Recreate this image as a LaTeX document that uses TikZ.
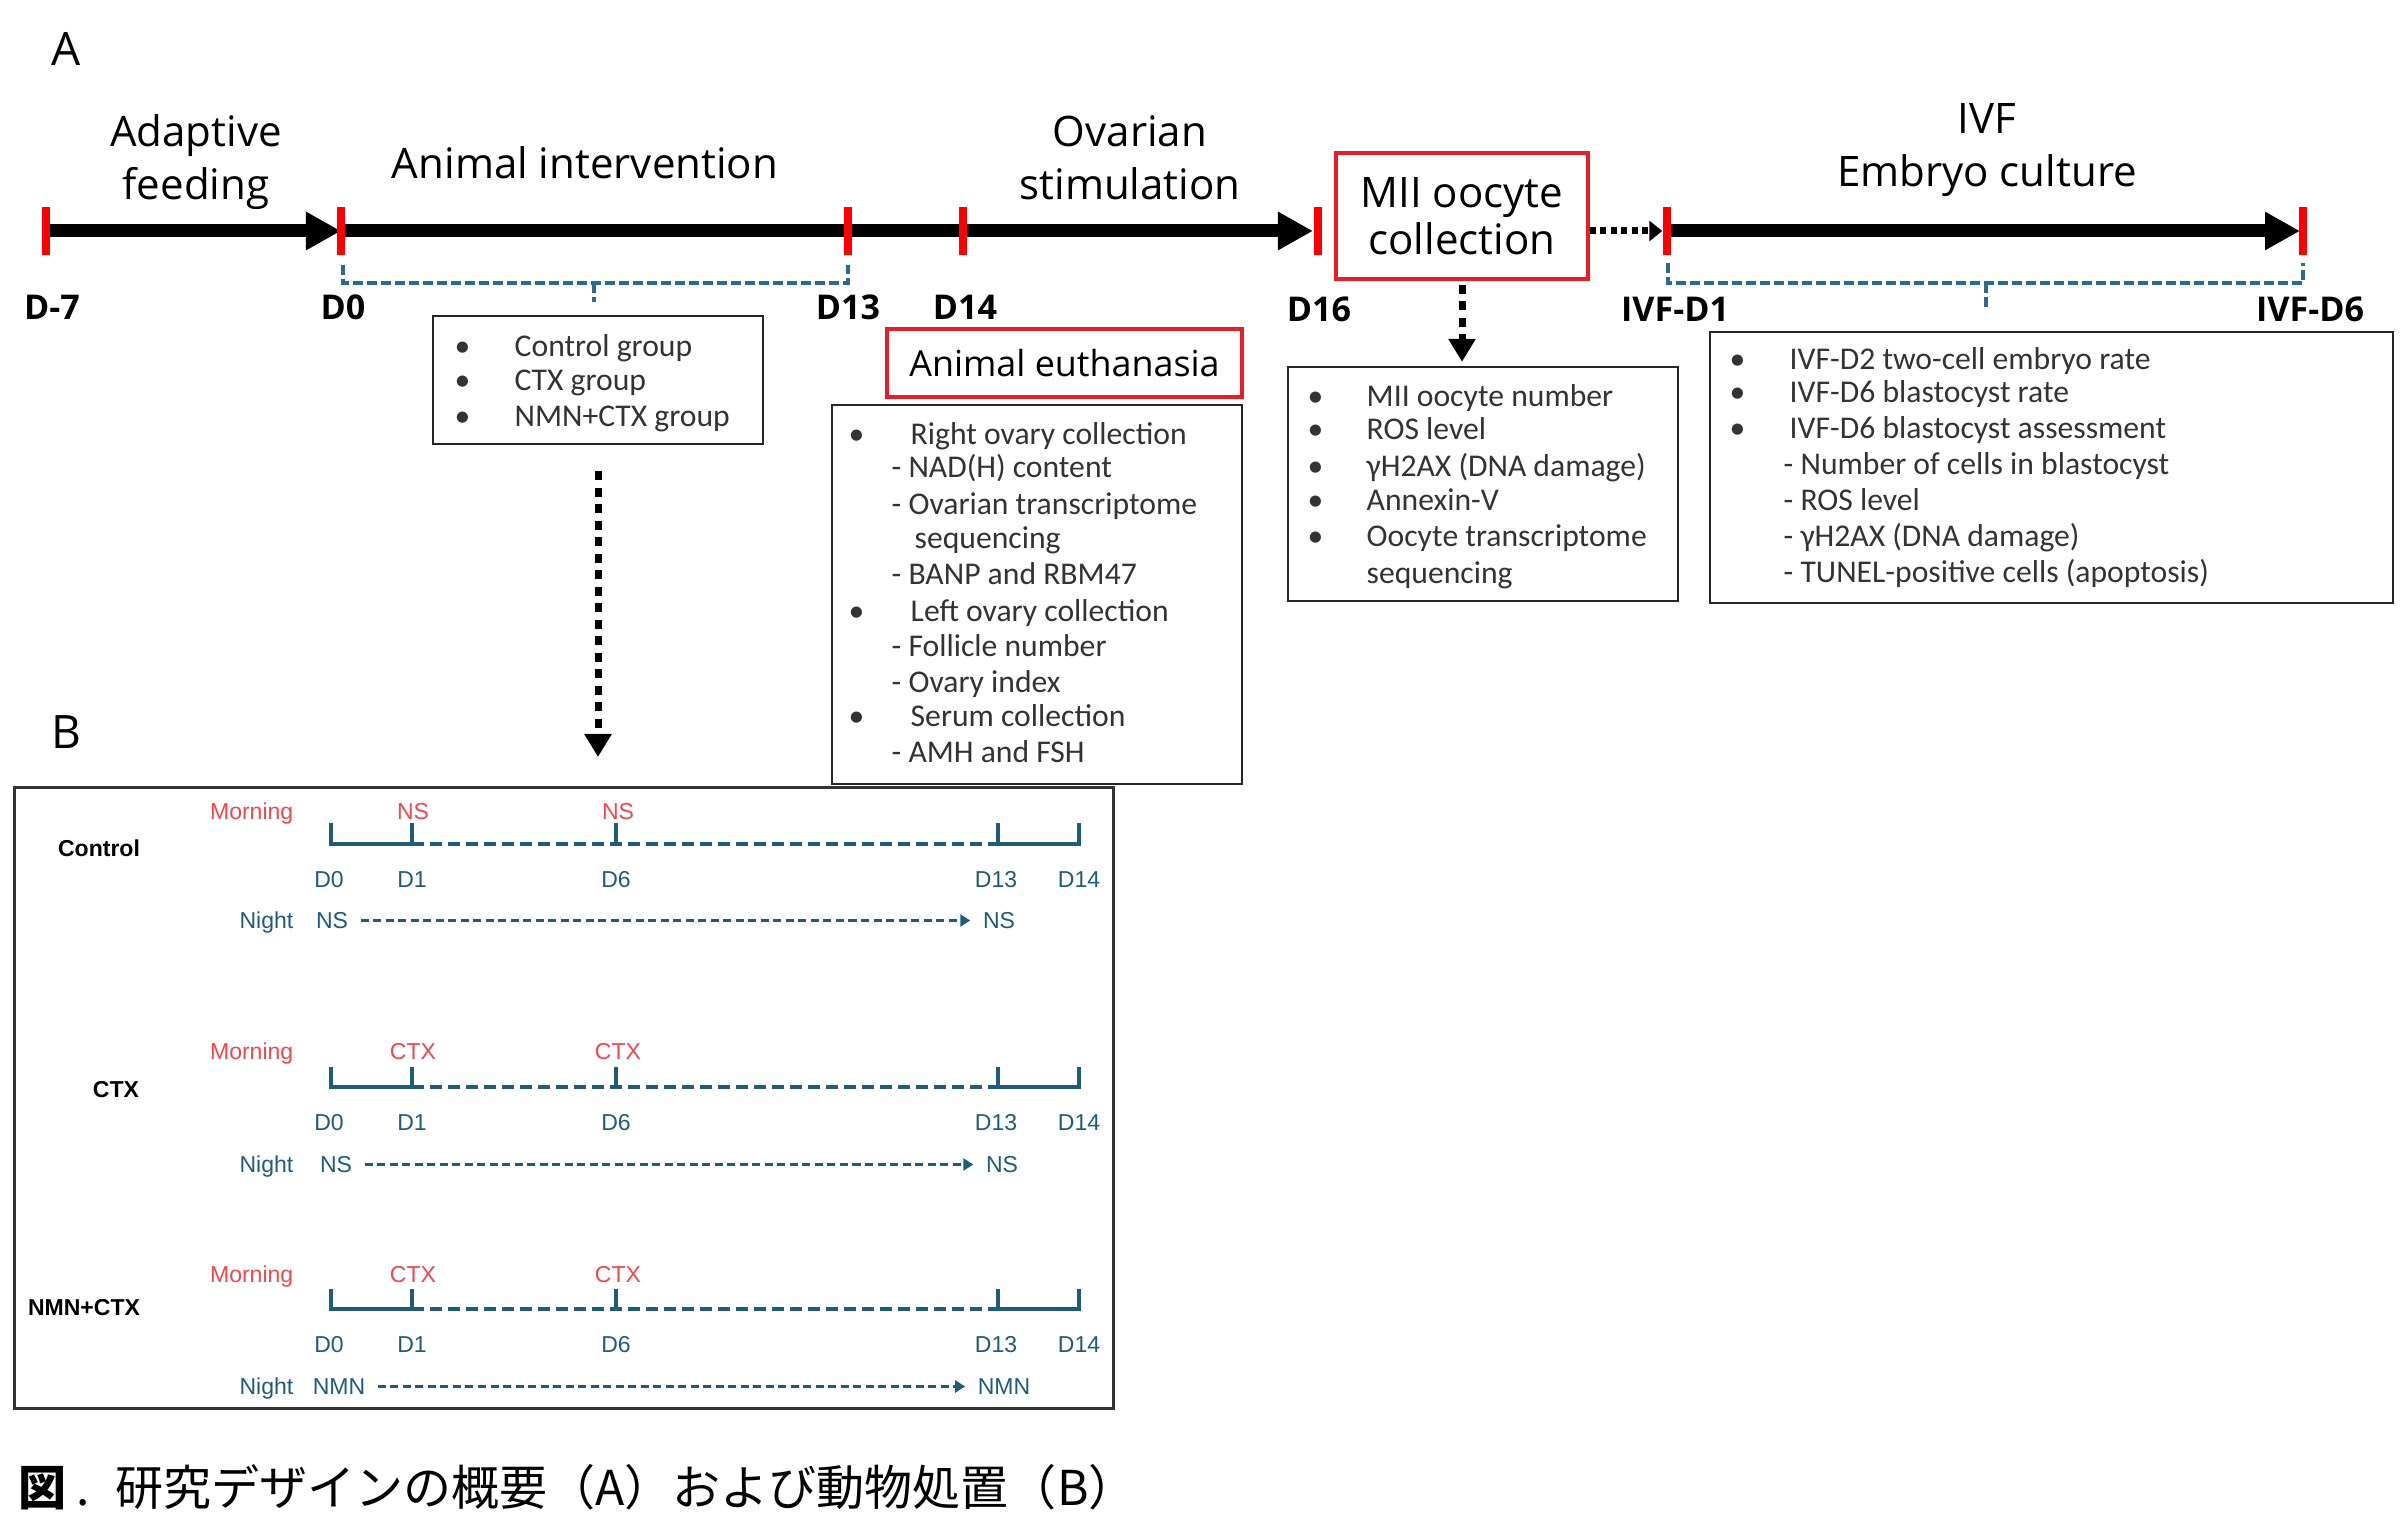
\documentclass[tikz,border=0pt]{standalone}
\usepackage{fontspec}
\setmainfont{Open Sans}
\newfontfamily\listfont{Carlito}
\newfontfamily\arialfont{Liberation Sans}
\newfontfamily\cjkfont{Noto Sans CJK JP}
\usetikzlibrary{arrows.meta}
\definecolor{tickred}{RGB}{255,0,0}
\definecolor{boxred}{RGB}{235,28,36}
\definecolor{bracecol}{RGB}{43,106,143}
\definecolor{bteal}{RGB}{31,92,122}
\definecolor{mred}{RGB}{240,72,78}
\tikzstyle{panel}=[font=\fontsize{13.1}{15}\selectfont]
\tikzstyle{head}=[align=center,font=\fontsize{11.95}{15}\selectfont]
\tikzstyle{day}=[font=\bfseries\fontsize{9.7}{12}\selectfont,anchor=mid]
\tikzstyle{redtick}=[fill=tickred,inner sep=0,minimum width=0.08cm,minimum height=0.48cm]
\tikzstyle{bigarrow}=[line width=0.13cm,-{Triangle[length=0.35cm,width=0.36cm]}]
\tikzstyle{dotarrow}=[line width=0.07cm,dash pattern=on 0.06cm off 0.045cm,-{Triangle[length=0.13cm,width=0.2cm]}]
\tikzstyle{vdotarrow}=[line width=0.07cm,dash pattern=on 0.09cm off 0.075cm,-{Triangle[length=0.23cm,width=0.26cm]}]
\tikzstyle{brace}=[draw=bracecol,line width=0.035cm,dash pattern=on 0.1cm off 0.04cm]
\tikzstyle{rbox}=[draw=boxred,line width=0.035cm]
\tikzstyle{lbox}=[draw=black!85,line width=0.022cm]
\tikzstyle{lst}=[font=\listfont\fontsize{9}{11}\selectfont,anchor=mid west,inner sep=0,text=black!80]
\tikzstyle{btxt}=[font=\arialfont\fontsize{6.55}{8}\selectfont,text=bteal,inner sep=0.04cm,anchor=mid]
\tikzstyle{bred}=[btxt,text=mred]
\tikzstyle{bside}=[btxt,anchor=mid east]
\tikzstyle{bmorn}=[bside,text=mred]
\tikzstyle{bgrp}=[font=\arialfont\bfseries\fontsize{6.55}{8}\selectfont,anchor=mid]
\tikzstyle{bline}=[draw=bteal,line width=0.048cm]
\tikzstyle{bdash}=[bline,dash pattern=on 0.12cm off 0.06cm]
\tikzstyle{nightarrow}=[draw=bteal,line width=0.035cm,dash pattern=on 0.08cm off 0.045cm,-{Triangle[length=0.1cm,width=0.12cm]},shorten <=0.08cm,shorten >=0.08cm]

\begin{document}
\begin{tikzpicture}[x=0.01cm,y=-0.01cm]
\useasboundingbox (0,0) rectangle (2400,1534);
\fill[white] (0,0) rectangle (2400,1534);

% A: time line
\node[panel] (labA) at (66,49) {A};
\coordinate (pm7) at (46,231); \coordinate (p0) at (341,231); \coordinate (p13) at (848,231); \coordinate (p14) at (963,231);
\coordinate (p16) at (1318,231); \coordinate (pi1) at (1667,231); \coordinate (pi6) at (2303,231);
\draw[bigarrow] (pm7) -- (p0);
\draw[bigarrow,shorten >=0.05cm] (p0) -- (p16);
\draw[bigarrow,shorten >=0.03cm] (pi1) -- (pi6);
\node[redtick] (tm7) at (pm7) {}; \node[redtick] (t0) at (p0) {}; \node[redtick] (t13) at (p13) {}; \node[redtick] (t14) at (p14) {};
\node[redtick] (t16) at (p16) {}; \node[redtick] (ti1) at (pi1) {}; \node[redtick] (ti6) at (pi6) {};

\node[head] (hadapt) at (196,162) {Adaptive\\feeding};
\node[head] (hinter) at (585,163) {Animal intervention};
\node[head] (hovar) at (1130,158) {Ovarian\\stimulation};
\node[head] (hivf) at (1987,150) {IVF\\Embryo culture};
\node[rbox,head,font=\fontsize{11.95}{13.4}\selectfont,minimum width=2.52cm,minimum height=1.26cm] (mii) at (1462,216) {MII oocyte\\collection};
\draw[dotarrow] (mii.east |- ti1) -- (ti1.west);

\node[day] (dm7) at (52,310) {D-7};
\node[day] (d0) at (343,310) {D0};
\node[day] (d13) at (848,310) {D13};
\node[day] (d14) at (965,310) {D14};
\node[day] (d16) at (1319,312) {D16};
\node[day] (di1) at (1675,312) {IVF-D1};
\node[day] (di6) at (2310,312) {IVF-D6};

\draw[brace] (343,265) -- (343,283) -- (848,283) -- (848,265); \draw[brace] (594,283) -- (594,302);
\draw[brace] (1668,263) -- (1668,283) -- (2303,283) -- (2303,263); \draw[brace] (1986,283) -- (1986,307);

% groups
\node[lbox,minimum width=3.3cm,minimum height=1.28cm] (grp) at (598,380) {};
\node[lst] (gb1) at (454,347) {•}; \node[lst] (g1) at (514,347) {Control group};
\node[lst] (gb2) at (454,381) {•}; \node[lst] (g2) at (514,381) {CTX group};
\node[lst] (gb3) at (454,417) {•}; \node[lst] (g3) at (514,417) {NMN+CTX group};
\coordinate (arrB) at (600,757);
\draw[vdotarrow,shorten <=0.26cm] (grp.south) -- (grp.south |- arrB);

% euthanasia
\node[rbox,font=\fontsize{10.2}{12}\selectfont,minimum width=3.55cm,minimum height=0.68cm] (euth) at (1064.5,363) {Animal euthanasia};
\node[lbox,minimum width=4.1cm,minimum height=3.79cm] (elist) at (1037,594.5) {};
\node[lst] (eb1) at (848,435) {•}; \node[lst] (e1) at (910,435) {Right ovary collection};
\node[lst] (e2) at (891,468) {-~NAD(H) content};
\node[lst] (e3) at (891,505) {-~Ovarian transcriptome};
\node[lst] (e4) at (914,539) {sequencing};
\node[lst] (e5) at (891,575) {-~BANP and RBM47};
\node[lst] (eb6) at (848,612) {•}; \node[lst] (e6) at (910,612) {Left ovary collection};
\node[lst] (e7) at (891,647) {-~Follicle number};
\node[lst] (e8) at (891,683) {-~Ovary index};
\node[lst] (eb9) at (848,717) {•}; \node[lst] (e9) at (910,717) {Serum collection};
\node[lst] (e10) at (891,753) {-~AMH and FSH};

% oocytes
\node[lbox,minimum width=3.9cm,minimum height=2.34cm] (mlist) at (1483,484) {};
\draw[vdotarrow,shorten <=0.04cm,shorten >=0.04cm] (mii.south) -- (mii.south |- mlist.north);
\node[lst] (mb1) at (1307,397) {•}; \node[lst] (m1) at (1366,397) {MII oocyte number};
\node[lst] (mb2) at (1307,430) {•}; \node[lst] (m2) at (1366,430) {ROS level};
\node[lst] (mb3) at (1307,467) {•}; \node[lst] (m3) at (1366,467) {γH2AX (DNA damage)};
\node[lst] (mb4) at (1307,501) {•}; \node[lst] (m4) at (1366,501) {Annexin-V};
\node[lst] (mb5) at (1307,537) {•}; \node[lst] (m5) at (1366,537) {Oocyte transcriptome};
\node[lst] (m6) at (1366,574) {sequencing};

% embryos
\node[lbox,minimum width=6.83cm,minimum height=2.71cm] (ilist) at (2051.5,467.5) {};
\node[lst] (ib1) at (1729,360) {•}; \node[lst] (i1) at (1789,360) {IVF-D2 two-cell embryo rate};
\node[lst] (ib2) at (1729,393) {•}; \node[lst] (i2) at (1789,393) {IVF-D6 blastocyst rate};
\node[lst] (ib3) at (1729,429) {•}; \node[lst] (i3) at (1789,429) {IVF-D6 blastocyst assessment};
\node[lst] (i4) at (1783,465) {-~Number of cells in blastocyst};
\node[lst] (i5) at (1783,501) {-~ROS level};
\node[lst] (i6) at (1783,537) {-~γH2AX (DNA damage)};
\node[lst] (i7) at (1783,573) {-~TUNEL-positive cells (apoptosis)};

% B: treatment plan
\node[panel] (labB) at (66,732) {B};
\node[draw=black!80,line width=0.03cm,minimum width=10.98cm,minimum height=6.2cm] (bframe) at (564,1098) {};

\node[bgrp] (cG) at (99,847) {Control};
\node[bmorn] (cMorn) at (298,810) {Morning};
\node[bred] (cM1) at (413,810) {NS}; \node[bred] (cM6) at (618,810) {NS};
\coordinate (c0) at (331,844); \coordinate (c1) at (412,844); \coordinate (c6) at (616,844); \coordinate (c13) at (998,844); \coordinate (c14) at (1079,844);
\draw[bline] ([yshift=0.21cm]c0) -- (c0) -- (c1) -- ([yshift=0.21cm]c1);
\draw[bdash] (c1) -- (c13);
\draw[bline] ([yshift=0.21cm]c6) -- (c6);
\draw[bline] ([yshift=0.21cm]c13) -- (c13) -- (c14) -- ([yshift=0.21cm]c14);
\node[btxt] (cD0) at (329,878) {D0}; \node[btxt] (cD1) at (412,878) {D1}; \node[btxt] (cD6) at (616,878) {D6};
\node[btxt] (cD13) at (996,878) {D13}; \node[btxt] (cD14) at (1079,878) {D14};
\node[bside] (cNight) at (298,919) {Night}; \node[btxt] (cNa) at (332,919) {NS}; \node[btxt] (cNb) at (999,919) {NS};
\draw[nightarrow] (cNa) -- (cNb);

\node[bgrp] (xG) at (116,1088) {CTX};
\node[bmorn] (xMorn) at (298,1050) {Morning};
\node[bred] (xM1) at (413,1050) {CTX}; \node[bred] (xM6) at (618,1050) {CTX};
\coordinate (x0) at (331,1087); \coordinate (x1) at (412,1087); \coordinate (x6) at (616,1087); \coordinate (x13) at (998,1087); \coordinate (x14) at (1079,1087);
\draw[bline] ([yshift=0.2cm]x0) -- (x0) -- (x1) -- ([yshift=0.2cm]x1);
\draw[bdash] (x1) -- (x13);
\draw[bline] ([yshift=0.2cm]x6) -- (x6);
\draw[bline] ([yshift=0.2cm]x13) -- (x13) -- (x14) -- ([yshift=0.2cm]x14);
\node[btxt] (xD0) at (329,1121) {D0}; \node[btxt] (xD1) at (412,1121) {D1}; \node[btxt] (xD6) at (616,1121) {D6};
\node[btxt] (xD13) at (996,1121) {D13}; \node[btxt] (xD14) at (1079,1121) {D14};
\node[bside] (xNight) at (298,1163) {Night}; \node[btxt] (xNa) at (336,1163) {NS}; \node[btxt] (xNb) at (1002,1163) {NS};
\draw[nightarrow] (xNa) -- (xNb);

\node[bgrp] (nG) at (84,1306) {NMN+CTX};
\node[bmorn] (nMorn) at (298,1273) {Morning};
\node[bred] (nM1) at (413,1273) {CTX}; \node[bred] (nM6) at (618,1273) {CTX};
\coordinate (n0) at (331,1309); \coordinate (n1) at (412,1309); \coordinate (n6) at (616,1309); \coordinate (n13) at (998,1309); \coordinate (n14) at (1079,1309);
\draw[bline] ([yshift=0.2cm]n0) -- (n0) -- (n1) -- ([yshift=0.2cm]n1);
\draw[bdash] (n1) -- (n13);
\draw[bline] ([yshift=0.2cm]n6) -- (n6);
\draw[bline] ([yshift=0.2cm]n13) -- (n13) -- (n14) -- ([yshift=0.2cm]n14);
\node[btxt] (nD0) at (329,1343) {D0}; \node[btxt] (nD1) at (412,1343) {D1}; \node[btxt] (nD6) at (616,1343) {D6};
\node[btxt] (nD13) at (996,1343) {D13}; \node[btxt] (nD14) at (1079,1343) {D14};
\node[bside] (nNight) at (298,1385) {Night}; \node[btxt] (nNa) at (339,1385) {NMN}; \node[btxt] (nNb) at (1004,1385) {NMN};
\draw[nightarrow] (nNa) -- (nNb);

\node[anchor=west,inner sep=0,font=\cjkfont\fontsize{13.66}{16}\selectfont] (cap) at (18,1487) {{\bfseries 図}\hspace{0.1cm}.\hspace{0.25cm}研究デザインの概要（A）および動物処置（B）};
\end{tikzpicture}
\end{document}
